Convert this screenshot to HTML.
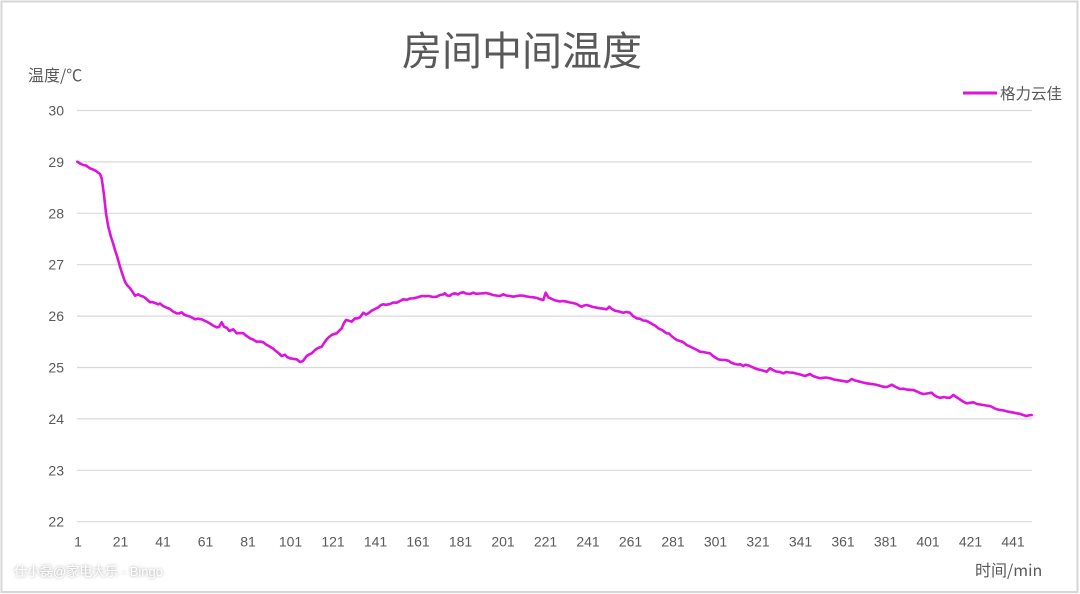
<!DOCTYPE html>
<html>
<head>
<meta charset="utf-8">
<style>
  html,body{margin:0;padding:0;background:#fff;}
  svg{display:block;}
  text{font-family:"Liberation Sans","Noto Sans CJK SC",sans-serif;fill:#595959;}
</style>
</head>
<body>
<svg width="1080" height="594" viewBox="0 0 1080 594" xmlns="http://www.w3.org/2000/svg">
  <rect x="0" y="0" width="1080" height="594" fill="#fff"/>
  <rect x="1.5" y="1.5" width="1076" height="590.5" fill="none" stroke="#d6d6d6" stroke-width="2"/>

  <!-- title -->
  <text x="522" y="65" font-size="40" text-anchor="middle" style="font-family:'Noto Sans CJK SC',sans-serif">房间中间温度</text>

  <!-- axis titles -->
  <text x="28" y="81" font-size="16" style="font-family:'Noto Sans CJK SC',sans-serif">温度/℃</text>
  <text x="975" y="576" font-size="16" style="font-family:'Noto Sans CJK SC',sans-serif">时间/min</text>

  <!-- gridlines -->
  <g stroke="#d9d9d9" stroke-width="1.2">
    <line x1="77" y1="110.5" x2="1032" y2="110.5"/>
    <line x1="77" y1="161.9" x2="1032" y2="161.9"/>
    <line x1="77" y1="213.3" x2="1032" y2="213.3"/>
    <line x1="77" y1="264.7" x2="1032" y2="264.7"/>
    <line x1="77" y1="316.1" x2="1032" y2="316.1"/>
    <line x1="77" y1="367.5" x2="1032" y2="367.5"/>
    <line x1="77" y1="418.9" x2="1032" y2="418.9"/>
    <line x1="77" y1="470.3" x2="1032" y2="470.3"/>
    <line x1="77" y1="521.7" x2="1032" y2="521.7"/>
  </g>

  <!-- y tick labels -->
  <g font-size="14" text-anchor="end">
    <text x="64" y="115.5">30</text>
    <text x="64" y="166.9">29</text>
    <text x="64" y="218.3">28</text>
    <text x="64" y="269.7">27</text>
    <text x="64" y="321.1">26</text>
    <text x="64" y="372.5">25</text>
    <text x="64" y="423.9">24</text>
    <text x="64" y="475.3">23</text>
    <text x="64" y="526.7">22</text>
  </g>

  <!-- x tick labels -->
  <g font-size="14" text-anchor="middle">
    <text x="78" y="546.5">1</text>
    <text x="120.5" y="546.5">21</text>
    <text x="163" y="546.5">41</text>
    <text x="205.5" y="546.5">61</text>
    <text x="248" y="546.5">81</text>
    <text x="290.5" y="546.5">101</text>
    <text x="333" y="546.5">121</text>
    <text x="375.5" y="546.5">141</text>
    <text x="418" y="546.5">161</text>
    <text x="460.5" y="546.5">181</text>
    <text x="503" y="546.5">201</text>
    <text x="545.5" y="546.5">221</text>
    <text x="588" y="546.5">241</text>
    <text x="630.5" y="546.5">261</text>
    <text x="673" y="546.5">281</text>
    <text x="715.5" y="546.5">301</text>
    <text x="758" y="546.5">321</text>
    <text x="800.5" y="546.5">341</text>
    <text x="843" y="546.5">361</text>
    <text x="885.5" y="546.5">381</text>
    <text x="928" y="546.5">401</text>
    <text x="970.5" y="546.5">421</text>
    <text x="1013" y="546.5">441</text>
  </g>

  <!-- legend -->
  <line x1="963" y1="93" x2="997" y2="93" stroke="#dc14dc" stroke-width="3"/>
  <text x="1000" y="99" font-size="15.5" style="font-family:'Noto Sans CJK SC',sans-serif">格力云佳</text>

  <!-- series -->
  <polyline fill="none" stroke="#dc14dc" stroke-width="2.6" stroke-linejoin="round" stroke-linecap="round" points="
77.3,161.7 80,163.5 83.3,165 86,165.5 90,168.3 93,169.5 96,171 100,174 101.7,178.3 104,195 106,213.3 108.3,226.7 111,237 113,243 115,250 117,256 120,266.7 122,273 125,281.7 127,285 130,288.3 132,291 135,295.7 138.3,294.3 140,295.5 143.3,296.7 146,298.5 150,302.3 152,302 155,303 158.3,304.3 160,303.5 163,306 166.7,307.7 170,309 173,311.5 176.7,313.3 179,313.5 181.7,312.3 184,314.5 186.7,315.7 190,316.5 195,319.3 198,318.6 201.7,319.3 206.7,321.7 210,323.5 213,325.5 216.7,327.3 219,327 221.7,322.3 224,326.7 227,328 229.3,331 233.3,329.3 236.7,333.3 240,333 243.3,333.3 246,335.5 250,338.3 253,339.5 256.7,341.7 260,341.5 263.3,342.3 266,344.5 270,346.7 273,348.5 276.7,351.7 279,353.5 281.7,356 285,354.7 287,357 290,358.3 293,358.8 296.7,359.3 300,362 303,361 306.7,356 309,354.5 311.7,353.3 315,350 318,348 321.7,346.7 324,343 326.7,339.3 329,337 331.7,335 334,334 336.7,333.3 339,331 341.7,328.3 344,323 346,320 349,320.8 351.7,321.7 355,318.3 357,318.5 360,317.3 363.3,312.7 366,314.5 368.3,313.3 371.7,310.7 375,309 378.3,307.3 381,305 383.3,304.3 386,304.8 390,304 393,302.5 396.7,302.7 400,301 403.3,299.3 407,299.8 410,298.5 413.3,298.3 417,297.5 421.7,296 425,296.2 429,296 433,297 436.7,296.7 440,295 443,294.5 445,293.3 447,295.5 450,295.7 452,294 455,293.3 458,294.5 460,293 463.3,292.3 466,293.5 470,294 473.3,292.7 476,293.8 480,293.5 483.3,293.3 486,293 490,294 493,295 496,295.5 500,296 503.3,294.3 506,295.5 510,296 513.3,296.7 517,296 520,295.5 523.3,295.7 527,296.5 530,297 533.3,297.3 537,298 540,299.2 543.3,300 545.7,292.7 548.3,297.3 551,298.5 554,300 556.7,300.7 560,301.5 563,301 566.7,301.7 570,302.5 573,303 576.7,304 579,305.5 581.7,306.7 584,305.5 586.7,305 590,306 593,307 596.7,307.7 600,308.3 603,308.6 606.7,309.3 609.3,306.7 612,309 615,310.7 619,311.5 623.3,312.7 626,312 630,312.7 633,316 636.7,318.3 640,318.8 643,320.5 646,320.7 650,322.7 653,324.5 655,325.5 658.3,328.3 662,330 666.7,333.3 669,333.5 672,336.5 676.7,340 680,341 683,342 686.7,345 690,346.5 693,348 696,349.5 700,351.7 703,352 706,352.6 710,353.3 713,356 716,358 718.3,359.3 722,360 725,360 728.3,360.7 731,362.5 735,364 738,364.6 740,364.2 743.3,366 745,364.8 748.3,365.3 752,367 756.7,369 760,369.8 763,370.6 766.7,371.7 770,368.3 773,370 776,371.5 780,372 783.3,373.3 786,372 790,372.5 793.3,372.7 797,373.8 801,374.8 805,376 810,374 813,376 816,377 820,378.3 823,377.8 826,377.5 830,378.3 834,379.5 838,380.2 842,380.8 846.7,381.7 849,381 851.7,379 855,380.5 860,381.7 863,382.5 866.7,383.3 870,383.8 875,384.5 879,385.5 883.3,386.7 887,387 891.7,384.7 895,386.5 900,389 903,388.7 907,389.6 910,389.8 913.3,390 917,391.5 920,393 923.3,394 927,393.5 931.7,392.7 934,395 936.7,396.7 940,397.8 944,397 947,397.7 950,397.7 953.3,395 957,397.5 960,399.5 963,401.5 966.7,403.3 970,402.8 973.3,402.3 977,404 980,404.5 983.3,405 986,405.5 990,406 993,407.5 996,409 1000,410 1004,410.5 1008.3,411.7 1012,412.3 1016.7,413.3 1020,413.8 1023,415 1026.7,416 1029,415.3 1031.7,415"/>

  <!-- watermark -->
  <g style="font-family:'Noto Sans CJK SC',sans-serif" font-size="13">
    <text x="14" y="576" fill="#8a8a8a" style="fill:#9a9a9a;filter:blur(1.5px)">仕小磊@家电大乐 - Bingo</text>
    <text x="14" y="576" style="fill:#ffffff">仕小磊@家电大乐 - Bingo</text>
  </g>
</svg>
</body>
</html>
